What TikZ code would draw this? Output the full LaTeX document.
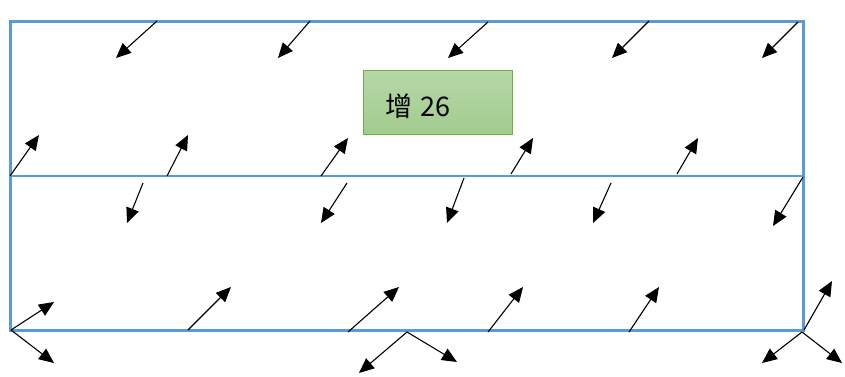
\documentclass[tikz,border=0pt]{standalone}
\usepackage{fontspec}
\newfontfamily\cjk{Noto Sans CJK SC}
\usetikzlibrary{arrows.meta}
\definecolor{frameblue}{HTML}{5B9BD5}
\definecolor{boxtop}{HTML}{B6D7A8}
\definecolor{boxbot}{HTML}{A2CC8E}
\definecolor{boxedge}{HTML}{70AD47}
\tikzset{
  vec/.style={line width=1.1pt, -{Triangle[length=15pt,width=13pt]}},
  frame/.style={draw=frameblue, line width=3pt},
  midline/.style={draw=frameblue, line width=1.3pt},
  labelbox/.style={draw=boxedge, line width=1pt, top color=boxtop, bottom color=boxbot,
    minimum width=149pt, minimum height=63pt, inner xsep=22pt, inner ysep=0pt,
    text width=105pt, text height=29pt, text depth=0pt, align=left,
    font=\cjk\fontsize{27}{30}\selectfont}
}
\begin{document}
\begin{tikzpicture}[x=1pt,y=-1pt]
\useasboundingbox (0,0) rectangle (845,377);
% frame
\draw[frame] (10,22) rectangle (803,330);
\draw[midline] (10,176) -- (803,176);
% label box
\node[labelbox] (lbl) at (437.5,102.5) {增 26};
% row 1 (down-left)
\draw[vec] (157,21) -- (116,58);
\draw[vec] (310,21) -- (278,58);
\draw[vec] (488,22) -- (448,58);
\draw[vec] (649,21) -- (612,58);
\draw[vec] (798,22) -- (762,58);
% row 2 (up-right)
\draw[vec] (10,176) -- (39,135);
\draw[vec] (167,176) -- (188,135);
\draw[vec] (321,176) -- (348,138);
\draw[vec] (511,174) -- (533,138);
\draw[vec] (677,174) -- (698,138);
% row 3 (down-left, steep)
\draw[vec] (143,183) -- (127,223);
\draw[vec] (347,183) -- (321,223);
\draw[vec] (464,178) -- (447,223);
\draw[vec] (611,183) -- (593,223);
\draw[vec] (803,177) -- (773,226);
% row 4 (up-right from bottom edge)
\draw[vec] (11,330) -- (54,302);
\draw[vec] (188,330) -- (231,287);
\draw[vec] (348,332) -- (399,287);
\draw[vec] (488,332) -- (523,287);
\draw[vec] (629,332) -- (659,287);
\draw[vec] (804,330) -- (832,281);
% below bottom edge
\draw[vec] (11,330) -- (54,363);
\draw[vec] (407,332) -- (359,373);
\draw[vec] (407,332) -- (457,362);
\draw[vec] (802,332) -- (762,363);
\draw[vec] (802,332) -- (842,363);
\end{tikzpicture}
\end{document}
